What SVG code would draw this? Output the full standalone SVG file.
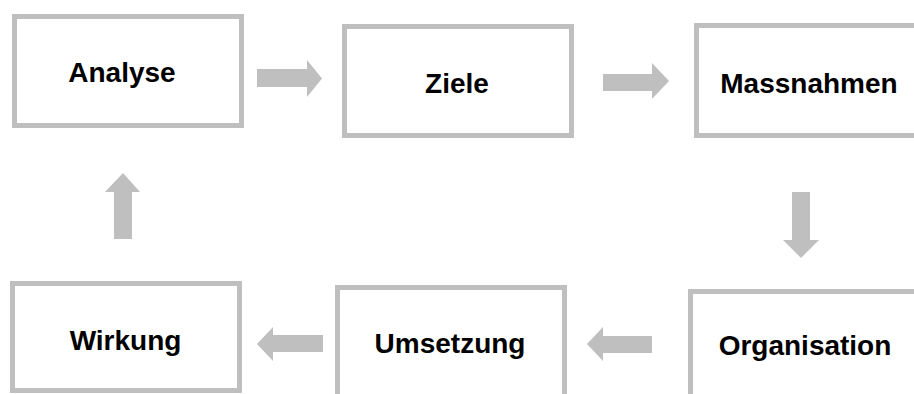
<svg xmlns="http://www.w3.org/2000/svg" width="914" height="394" viewBox="0 0 914 394">
<style>
.box{fill:#fff;stroke:#bfbfbf;stroke-width:5}
.lbl{font-family:"Liberation Sans",Arial,sans-serif;font-weight:bold;font-size:28px;fill:#000;text-anchor:middle}
.arr{fill:#bfbfbf}
</style>
<rect width="914" height="394" fill="#fff"/>
<g id="analyse"><rect class="box" x="14.5" y="16.5" width="227" height="109"/><text class="lbl" x="122" y="82">Analyse</text></g>
<g id="ziele"><rect class="box" x="344.5" y="26.5" width="227" height="109"/><text class="lbl" x="457" y="93">Ziele</text></g>
<g id="massnahmen"><rect class="box" x="696.5" y="25.5" width="227" height="110"/><text class="lbl" x="809" y="93">Massnahmen</text></g>
<g id="organisation"><rect class="box" x="690.5" y="291.5" width="227" height="110"/><text class="lbl" x="805" y="355">Organisation</text></g>
<g id="umsetzung"><rect class="box" x="337.5" y="287.5" width="227" height="110"/><text class="lbl" x="450" y="353">Umsetzung</text></g>
<g id="wirkung"><rect class="box" x="12.5" y="283.5" width="227" height="107"/><text class="lbl" x="125.5" y="350">Wirkung</text></g>
<g id="connectors">
<polygon class="arr" points="257,69 307,69 307,60 322,78.5 307,97 307,87 257,87"/>
<polygon class="arr" points="603,74 652,74 652,63 669,81 652,99 652,91 603,91"/>
<polygon class="arr" points="792,192 810,192 810,240 819,240 801,258 783,240 792,240"/>
<polygon class="arr" points="652,336 603,336 603,327 587,344 603,361 603,353 652,353"/>
<polygon class="arr" points="323,335 273,335 273,327 257,344 273,361 273,352 323,352"/>
<polygon class="arr" points="114,239 114,192 105,192 123,173 140,192 132,192 132,239"/>
</g>
</svg>
